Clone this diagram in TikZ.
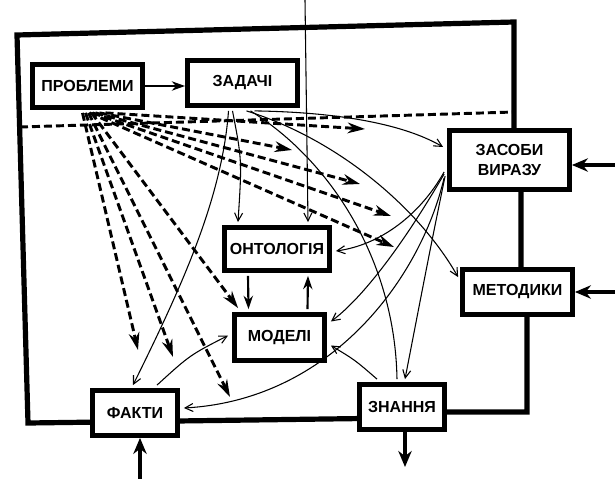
\documentclass[tikz,border=0pt]{standalone}
\usepackage{fontspec}
\setmainfont{Liberation Sans}
\usetikzlibrary{arrows.meta,calc}
\begin{document}
\begin{tikzpicture}[x=0.75pt,y=-0.75pt,
  box/.style={draw,line width=3.6pt,fill=white,font=\fontsize{12}{14.5}\selectfont\bfseries,align=center,inner sep=0pt},
  frameline/.style={line width=3.9pt,line join=miter},
  dashline/.style={line width=2.2pt,dash pattern=on 6pt off 3pt},
  dashar/.style={line width=2.2pt,dash pattern=on 6pt off 3pt,-{Stealth[length=13pt,width=8pt]}},
  thinar/.style={line width=0.8pt,-{Straight Barb[length=6pt,width=6pt]}},
  thinline/.style={line width=0.8pt},
  midar/.style={line width=1.6pt,-{Stealth[length=10pt,width=7pt]}},
  ext/.style={line width=2.8pt,-{Stealth[length=12pt,width=10pt]}}]
\useasboundingbox (0,0) rectangle (615,479);
\fill[white] (0,0) rectangle (615,479);

% frame
\draw[frameline] (514,22) -- (17,35) -- (28,423) -- (400,418) -- (400,412) -- (527,412) -- (527,292) -- (521,292) -- (521,160) -- (514,160) -- cycle;
\draw[dashline] (20,127) -- (514,112);

% nodes
\node[box,minimum width=82.5pt,minimum height=32.25pt] (prob) at (87.5,86) {ПРОБЛЕМИ};
\node[box,minimum width=82.5pt,minimum height=33.75pt] (zad) at (242.5,83) {ЗАДАЧІ};
\node[box,minimum width=90pt,minimum height=44.25pt] (zas) at (509.5,160) {ЗАСОБИ\\ВИРАЗУ};
\node[box,minimum width=78.75pt,minimum height=32.25pt] (onto) at (277,249) {ОНТОЛОГІЯ};
\node[box,minimum width=82.5pt,minimum height=33.75pt] (met) at (517.5,292) {МЕТОДИКИ};
\node[box,minimum width=67.5pt,minimum height=34.5pt] (mod) at (279.5,337.5) {МОДЕЛІ};
\node[box,minimum width=63.75pt,minimum height=33.75pt] (fak) at (135,413) {ФАКТИ};
\node[box,minimum width=63.75pt,minimum height=33.75pt] (zn) at (402,407) {ЗНАННЯ};

% free ends
\coordinate (r1) at (365,129);
\coordinate (r2) at (292,150);
\coordinate (r3) at (360,184);
\coordinate (r4) at (391,216);
\coordinate (r5) at (394,247);
\coordinate (dn1) at (138,350);
\coordinate (dn2) at (173,357);
\coordinate (dn3) at (230,397);
\coordinate (top) at (305,0);
\coordinate (inzas) at (615,165);
\coordinate (inmet) at (615,292);
\coordinate (infak) at (140,479);
\coordinate (outzn) at (405,467);

% problems -> tasks
\draw[midar,line width=2.2pt] (prob.east) -- (zad.west |- prob.east);

% dashed fan
\draw[dashar] ($(prob.south)+(18,3)$) -- (r1);
\draw[dashar] ($(prob.south)+(12,3)$) -- (r2);
\draw[dashar] ($(prob.south)+(8,3)$) -- (r3);
\draw[dashar] ($(prob.south)+(5,3)$) -- (r4);
\draw[dashar] ($(prob.south)+(2,3)$) -- (r5);
\draw[dashar] ($(prob.south)+(-5,3)$) -- (dn1);
\draw[dashar] ($(prob.south)+(-2,3)$) -- (dn2);
\draw[dashar] ($(prob.south)+(1,3)$) -- (dn3);
\draw[dashar] ($(prob.south)+(4,3)$) -- ($(mod.north west)+(6,-4)$);

% thin connectors
\draw[thinar] (top) -- ($(onto.north)+(31,-3)$);
\draw[thinar] ($(zad.south)+(-10,3)$) .. controls (242,160) .. ($(onto.north)+(-39,-3)$);
\draw[thinar] ($(zad.south)+(-14,3)$) .. controls (222,200) and (180,290) .. ($(fak.north)+(-2,-3)$);
\draw[thinar] ($(fak.north)+(22,-3)$) .. controls (190,355) .. ($(mod.west)+(-4,-2)$);
\draw[thinar] ($(zad.south)+(12,3)$) .. controls (330,112) and (400,122) .. ($(zas.west)+(-4,-13)$);
\draw[thinar] ($(zad.south)+(4,3)$) .. controls (340,140) and (420,210) .. ($(met.north west)+(-2,10)$);
\draw[thinline] ($(zad.south)+(8,3)$) .. controls (330,160) and (395,260) .. ($(zn.north)+(-5,-3)$);
\draw[thinar] ($(zas.west)+(-3,12)$) .. controls (420,215) and (380,245) .. ($(onto.east)+(4,2)$);
\draw[thinar] ($(zas.west)+(-3,14)$) .. controls (400,250) and (360,300) .. ($(mod.east)+(4,-16)$);
\draw[thinar] ($(zas.west)+(-2,16)$) .. controls (430,250) .. ($(zn.north)+(3,-3)$);
\draw[thinar] ($(zas.west)+(-3,18)$) .. controls (420,280) and (330,400) .. ($(fak.east)+(4,-5)$);
\draw[thinar] ($(zn.north)+(-25,-3)$) .. controls (355,360) .. ($(mod.east)+(4,8)$);

% ontology <-> models
\draw[midar] ($(onto.south)+(-29,3)$) -- ($(mod.north)+(-31,-3)$);
\draw[midar] ($(mod.north)+(28,-3)$) -- ($(onto.south)+(31,3)$);

% external arrows
\draw[ext] (inzas) -- (zas.east |- inzas);
\draw[ext] (inmet) -- (met.east);
\draw[ext] (infak) -- (fak.south -| infak);
\draw[ext] (zn.south -| outzn) -- (outzn);
\end{tikzpicture}
\end{document}
